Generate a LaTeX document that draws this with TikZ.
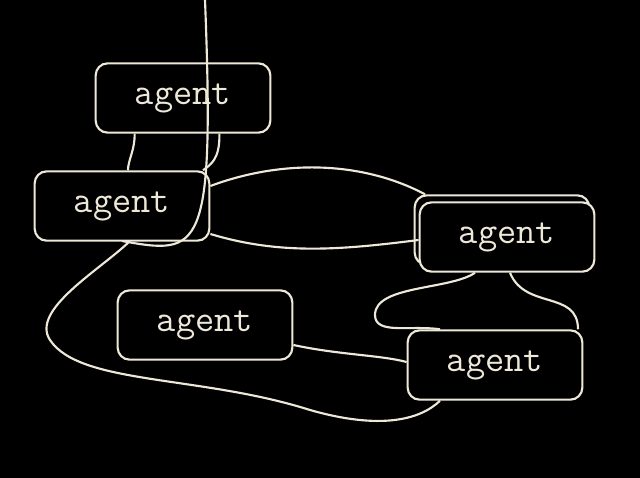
\documentclass[tikz,border=0pt]{standalone}
\definecolor{ink}{HTML}{EDE8D8}
\begin{document}
\begin{tikzpicture}[x=0.75pt,y=-0.75pt,line width=1.6pt,draw=ink]
  \fill[black] (0,0) rectangle (640,478);
  \useasboundingbox (0,0) rectangle (640,478);
  \begin{scope}[every node/.style={draw=ink,line width=1.6pt,rounded corners=9pt,fill=black,
      text=ink,minimum width=131pt,minimum height=52pt,font=\ttfamily\fontsize{28}{30}\selectfont}]
    \node (back) at (502,230) {};
    \node (a) at (183,98) {agent};
    \node (b) at (122,206) {agent};
    \node (c) at (205,325) {agent};
    \node (d) at (507,237) {agent};
    \node (e) at (495,365) {agent};
  \end{scope}
  \begin{scope}[ink]
    \draw (a.south west)++(40,0) coordinate (a1) .. controls (135,150) and (128,160) .. (b.north west -| 128,0);
    \draw (a.south east)++(-52,0) coordinate (a2) .. controls (220,160) and (210,165) .. (b.north east -| 203,0);
    \draw (b.east |- 0,186) .. controls (280,160) and (360,160) .. (back.north west -| 425,0);
    \draw (b.east |- 0,234) .. controls (280,255) and (340,250) .. (d.west |- 0,240);
    \draw (b.south |- 0,241) .. controls (200,255) and (215,255) .. (c.north |- 212,0);
    \draw (b.south |- 0,241) ++(8,0) coordinate (b1) .. controls (100,270) and (30,310) .. (50,340)
      .. controls (80,385) and (200,375) .. (310,410)
      .. controls (380,430) and (420,420) .. (e.south west -| 440,0);
    \draw (c.east |- 0,345) .. controls (340,355) and (380,355) .. (e.west |- 0,362);
    \draw (d.south -| 475,0) .. controls (450,290) and (375,285) .. (375,315)
      .. controls (375,335) and (410,325) .. (e.north west -| 440,0);
    \draw (d.south -| 510,0) .. controls (525,310) and (578,290) .. (e.north east -| 578,0);
  \end{scope}
\end{tikzpicture}
\end{document}
